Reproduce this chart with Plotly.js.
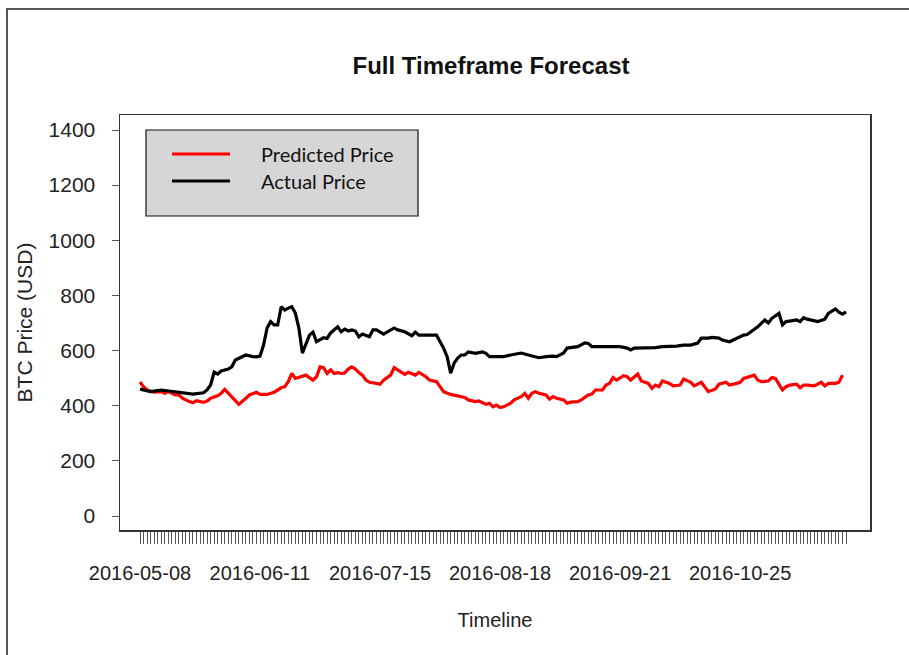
<!DOCTYPE html>
<html>
<head>
<meta charset="utf-8">
<script src="https://cdn.plot.ly/plotly-3.0.1.min.js"></script>
<style>
  html, body { margin: 0; padding: 0; background: #ffffff; }
  #chart { width: 909px; height: 655px; }
</style>
</head>
<body>
<div id="chart"></div>
<script>
// ---- data (day offsets from the start date, values in USD) ----
const startDate = '2016-05-08';
const lastDay = 200;

const actualDay = [0,3,6,10,12,15,18,19,20,21,22,23,25,26,27,29,30,32,33,34,35,36,37,38,39,40,41,42,43,44,45,46,47,48,49,50,52,53,54,55,56,57,58,59,60,61,62,63,64,65,66,67,69,70,72,73,75,77,78,79,81,83,84,85,86,87,88,89,90,91,92,93,95,97,98,99,101,103,105,106,108,110,111,112,113,115,117,118,120,121,123,124,126,127,128,130,132,134,136,138,139,140,142,144,146,148,149,151,152,154,156,158,159,161,162,164,165,167,169,170,171,172,174,175,177,178,179,181,182,183,184,186,187,188,189,191,192,194,195,196,197,198,199,200];
const actualPrice = [460,451,457,451,446,442,447,457,475,522,515,526,533,541,566,578,584,578,577,580,620,682,705,693,693,759,747,754,759,736,682,591,620,656,667,632,647,644,664,675,686,668,678,671,675,671,650,660,656,650,675,675,660,668,682,675,668,654,667,656,656,656,656,632,609,578,518,555,573,584,584,595,590,595,590,578,578,578,584,586,591,584,581,580,574,578,580,578,591,609,614,614,628,626,614,614,614,612,614,609,602,609,609,611,611,614,614,614,616,620,620,627,645,645,648,645,638,632,645,650,656,658,675,686,711,700,717,735,693,705,707,711,705,719,714,707,705,714,735,743,751,739,732,740];

const predDay = [0,1,2,4,6,7,8,10,11,12,14,15,16,18,19,20,22,23,24,25,26,27,28,30,31,33,34,36,38,40,41,42,43,44,46,47,48,49,50,51,52,53,54,55,56,57,58,59,60,61,62,63,64,65,67,68,69,71,72,74,75,76,78,79,81,82,84,85,86,88,89,91,92,93,95,96,98,99,100,101,102,103,105,106,108,109,110,111,112,113,115,116,117,118,120,121,122,124,125,127,128,129,131,132,133,134,135,137,138,139,140,141,142,144,145,146,147,148,150,151,153,154,156,157,159,160,161,163,164,166,167,169,170,171,173,174,175,176,178,179,180,181,182,183,184,186,187,188,189,191,192,193,194,195,197,198,199];
const predPrice = [486,469,457,449,451,445,451,439,439,427,415,411,418,412,417,427,436,445,459,445,433,421,405,427,439,449,441,441,449,465,469,487,517,499,509,511,502,493,505,541,538,517,530,517,520,517,519,533,541,533,520,511,493,485,481,478,493,511,538,521,514,521,511,521,505,493,487,469,451,441,438,433,430,421,415,417,405,409,396,402,393,396,409,421,433,445,427,445,451,445,439,424,433,427,421,409,413,415,421,439,442,457,457,475,481,502,493,509,505,493,505,515,490,481,463,475,469,490,481,472,475,497,485,472,485,469,451,461,478,485,475,481,485,499,505,511,493,487,490,502,499,475,457,469,475,478,465,475,475,472,478,485,472,481,481,485,511];

const tickLabels = ['2016-05-08','2016-06-11','2016-07-15','2016-08-18','2016-09-21','2016-10-25'];
const yTicks = [0,200,400,600,800,1000,1200,1400];
const seriesNames = ['Predicted Price', 'Actual Price'];
const seriesColors = ['#ff0000', '#000000'];

// ---- helpers ----
const DAY = 86400000;
const t0 = Date.parse(startDate + 'T00:00:00Z');
const toDate = d => new Date(t0 + d * DAY).toISOString().slice(0, 10);

const allTickDates = [];
const allTickText = [];
for (let d = 0; d <= lastDay; d++) {
  const s = toDate(d);
  allTickDates.push(s);
  allTickText.push(tickLabels.includes(s) ? s : '');
}

const traces = [
  { x: predDay.map(toDate), y: predPrice, type: 'scatter', mode: 'lines',
    name: seriesNames[0], line: { color: seriesColors[0], width: 3.2 } },
  { x: actualDay.map(toDate), y: actualPrice, type: 'scatter', mode: 'lines',
    name: seriesNames[1], line: { color: seriesColors[1], width: 3.2 } }
];

// plot box in pixels: left 120, right 870, top 115, bottom 530
const L = 120, R = 870, T = 115, B = 530;
const px = x => (x - L) / (R - L);
const py = y => (B - y) / (B - T);

const font = 'Liberation Sans, Arial, Helvetica, sans-serif';
const legFont = 'Lato, Open Sans, sans-serif';

const layout = {
  width: 909, height: 655,
  margin: { l: L, r: 909 - R, t: T, b: 655 - B, pad: 0 },
  paper_bgcolor: '#ffffff', plot_bgcolor: '#ffffff',
  showlegend: false,
  font: { family: font, size: 20, color: '#222222' },
  title: { text: '<b>Full Timeframe Forecast</b>', font: { family: font, size: 24, color: '#111111' },
           x: px(491), xref: 'paper', xanchor: 'center', y: 1 - 66 / 655, yref: 'container', yanchor: 'middle' },
  xaxis: {
    type: 'date',
    range: ['2016-05-02 08:00', '2016-11-30 19:00'],
    tickmode: 'array', tickvals: allTickDates, ticktext: allTickText, tickangle: 0,
    ticks: 'outside', ticklen: 12, tickwidth: 1, tickcolor: '#555555',
    ticklabelstandoff: 12,
    showgrid: false, zeroline: false,
    showline: true, mirror: true, linecolor: '#333333', linewidth: 1.5,
    tickfont: { family: font, size: 20, color: '#222222' },
    title: { text: 'Timeline', font: { family: font, size: 20, color: '#222222' }, standoff: 30 }
  },
  yaxis: {
    range: [-(B - 516) * 1400 / 386, (516 - T) * 1400 / 386],
    tickmode: 'array', tickvals: yTicks,
    ticks: 'outside', ticklen: 7, tickwidth: 1, tickcolor: '#555555',
    ticklabelstandoff: 12,
    showgrid: false, zeroline: false,
    showline: true, mirror: true, linecolor: '#333333', linewidth: 1.5,
    tickfont: { family: font, size: 21, color: '#222222' },
    title: { text: 'BTC Price (USD)', font: { family: font, size: 21, color: '#222222' }, standoff: 10 }
  },
  shapes: [
    // outer frame of the figure
    { type: 'rect', xref: 'paper', yref: 'paper', x0: px(7), x1: px(912), y0: py(660), y1: py(9),
      line: { color: '#222222', width: 1.5 }, fillcolor: 'rgba(0,0,0,0)' },
    // legend box
    { type: 'rect', xref: 'paper', yref: 'paper', x0: px(146), x1: px(418), y0: py(216), y1: py(130),
      line: { color: '#111111', width: 1.2 }, fillcolor: '#d6d6d6' },
    { type: 'line', xref: 'paper', yref: 'paper', x0: px(172), x1: px(230), y0: py(154), y1: py(154),
      line: { color: seriesColors[0], width: 3 } },
    { type: 'line', xref: 'paper', yref: 'paper', x0: px(172), x1: px(230), y0: py(181), y1: py(181),
      line: { color: seriesColors[1], width: 3 } }
  ],
  annotations: [
    { xref: 'paper', yref: 'paper', x: px(259), y: py(154), xanchor: 'left', yanchor: 'middle',
      text: seriesNames[0], showarrow: false, font: { family: legFont, size: 20, color: '#111111' } },
    { xref: 'paper', yref: 'paper', x: px(259), y: py(181), xanchor: 'left', yanchor: 'middle',
      text: seriesNames[1], showarrow: false, font: { family: legFont, size: 20, color: '#111111' } }
  ]
};

Plotly.newPlot('chart', traces, layout, { displayModeBar: false, staticPlot: true });
</script>
</body>
</html>
